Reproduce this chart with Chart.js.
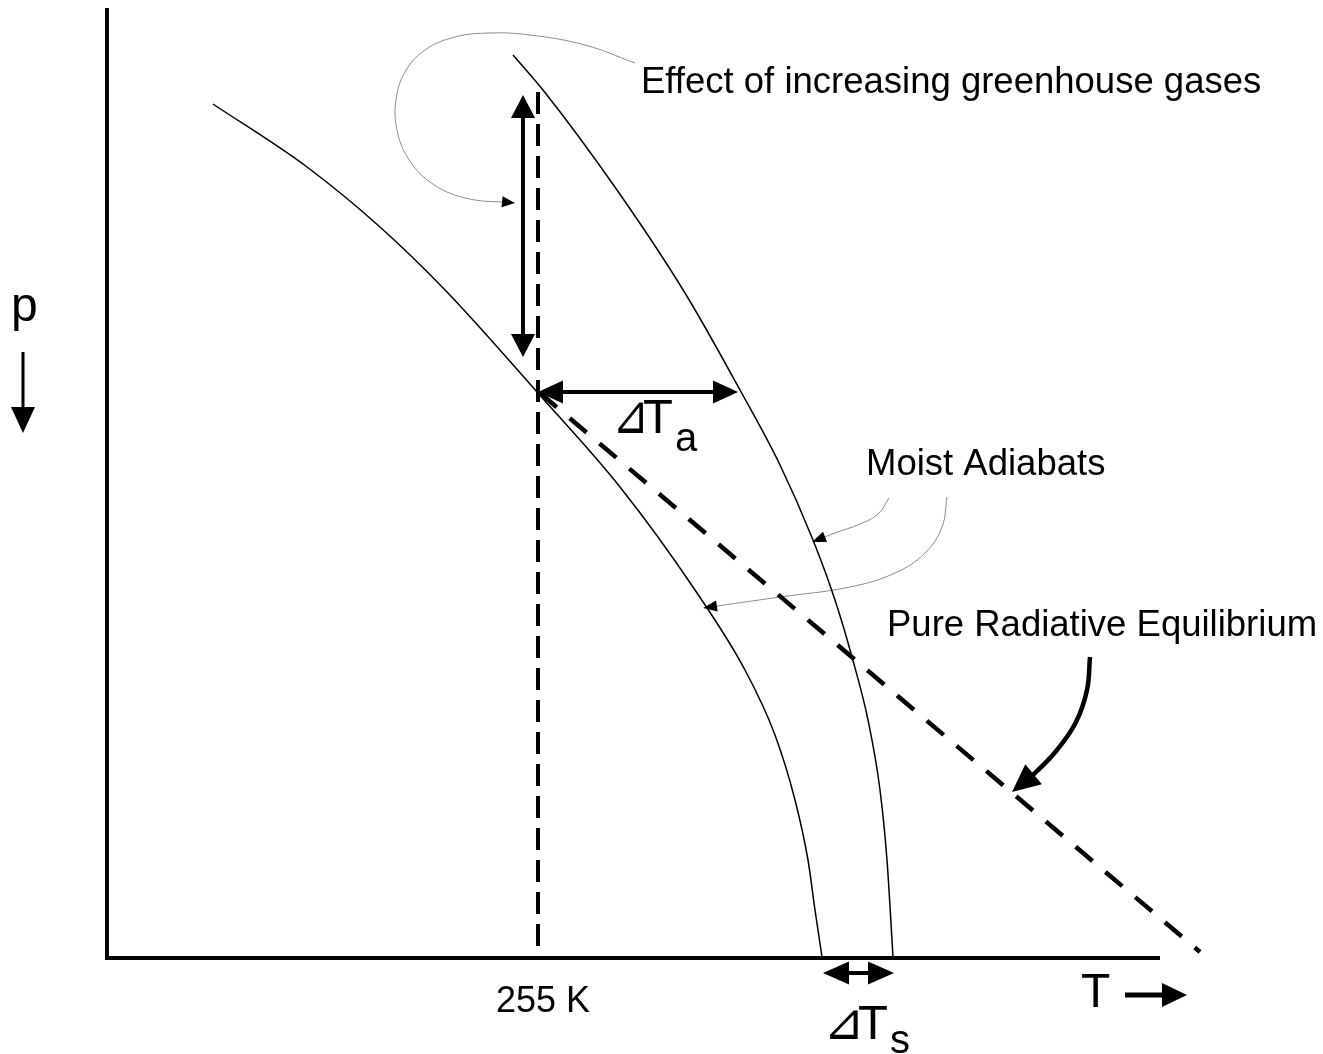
<!DOCTYPE html>
<html>
<head>
<meta charset="utf-8">
<title>Moist adiabats and radiative equilibrium</title>
<script src="https://cdn.jsdelivr.net/npm/chart.js@4.4.1/dist/chart.umd.min.js"></script>
<style>
  html, body { margin: 0; padding: 0; background: #fff; overflow: hidden; }
  canvas { display: block; }
</style>
</head>
<body>
<canvas id="profile" width="1323" height="1054"></canvas>
<script>
// schematic units: T grows to the right, p grows downward
const tRange = [0, 1323];
const pRange = [0, 1054];

// frame (p axis + T axis)
const axesT = [107, 107, 1160];
const axesP = [8, 958, 958];

// moist adiabat, present climate
const coldAdiabatT = [213, 307, 380, 447, 537, 620, 695, 745, 775, 795, 808, 815, 822];
const coldAdiabatP = [104, 167, 227, 292, 392, 487, 590, 670, 735, 800, 860, 910, 957];

// moist adiabat, more greenhouse gases
const warmAdiabatT = [513, 543, 617, 685, 740, 780, 813, 835, 852, 868, 880, 887, 893];
const warmAdiabatP = [55, 90, 190, 293, 390, 465, 540, 600, 657, 720, 790, 860, 957];

// pure radiative equilibrium
const radiativeT = [540, 1200];
const radiativeP = [393, 952];

// emission level at 255 K
const emissionT = [538, 538];
const emissionP = [92, 958];

// rise of the emission level
const liftT = [523, 523];
const liftP = [95, 357];

// warming aloft and at the surface
const deltaAloftT = [538, 738];
const deltaAloftP = [392, 392];
const deltaSurfT = [823, 894];
const deltaSurfP = [973, 973];

// axis direction arrows
const tArrowT = [1125, 1187];
const tArrowP = [995, 995];
const pArrowT = [23, 23];
const pArrowP = [352, 433];

// callout leaders
const greenhouseNoteT = [635, 585, 530, 490, 455, 425, 405, 396, 397, 408, 430, 465, 515];
const greenhouseNoteP = [63, 45, 35, 33, 37, 50, 72, 100, 130, 158, 182, 198, 203];
const moistNoteUpperT = [889, 878, 860, 835, 812];
const moistNoteUpperP = [498, 514, 524, 533, 542];
const moistNoteLowerT = [947, 942, 925, 895, 850, 780, 703];
const moistNoteLowerP = [497, 527, 553, 573, 587, 597, 608];
const radiativeNoteT = [1090, 1087, 1076, 1057, 1035, 1012];
const radiativeNoteP = [657, 690, 722, 750, 773, 792];

// texts
const labelTexts = ['Effect of increasing greenhouse gases', 'Moist Adiabats', 'Pure Radiative Equilibrium', '255 K', 'T', 'p'];
const labelT = [641, 866, 887, 496, 1081, 11];
const labelP = [93, 475, 636, 1012, 1007, 321];
const labelSize = [36.5, 36.5, 36.5, 36, 48, 48];

const deltaSubs = ['a', 's'];
const deltaT = [618, 830];
const deltaP = [433, 1039];

const pts = (xs, ys) => xs.map((x, i) => ({ x: x, y: ys[i] }));

function line(data, width, extra) {
  return Object.assign({
    data: data,
    showLine: true,
    borderColor: '#000',
    borderWidth: width,
    pointRadius: 0,
    tension: 0,
    fill: false,
  }, extra || {});
}

const datasets = [
  line(pts(axesT, axesP), 4, { borderJoinStyle: 'miter' }),
  line(pts(coldAdiabatT, coldAdiabatP), 1.5, { cubicInterpolationMode: 'monotone' }),
  line(pts(warmAdiabatT, warmAdiabatP), 1.5, { cubicInterpolationMode: 'monotone' }),
  line(pts(radiativeT, radiativeP), 4.5, { borderDash: [22, 17] }),
  line(pts(emissionT, emissionP), 4, { borderDash: [22, 10] }),
  line(pts(liftT, liftP), 4, { head: { len: 23, width: 24, start: true, end: true } }),
  line(pts(deltaAloftT, deltaAloftP), 4, { head: { len: 25, width: 23, start: true, end: true } }),
  line(pts(deltaSurfT, deltaSurfP), 4, { head: { len: 26, width: 23, start: true, end: true } }),
  line(pts(tArrowT, tArrowP), 5, { head: { len: 25, width: 24, end: true } }),
  line(pts(pArrowT, pArrowP), 3, { head: { len: 26, width: 24, end: true } }),
  line(pts(greenhouseNoteT, greenhouseNoteP), 1, { borderColor: '#8a8a8a', tension: 0.4, head: { len: 13, width: 11, end: true } }),
  line(pts(moistNoteUpperT, moistNoteUpperP), 1, { borderColor: '#8a8a8a', tension: 0.4, head: { len: 14, width: 11, end: true } }),
  line(pts(moistNoteLowerT, moistNoteLowerP), 1, { borderColor: '#8a8a8a', tension: 0.4, head: { len: 14, width: 11, end: true } }),
  line(pts(radiativeNoteT, radiativeNoteP), 4.5, { tension: 0.4, head: { len: 28, width: 26, end: true } }),
];

// move an end point back toward its neighbour so the shaft hides under the head
function pull(p, q, d) {
  const dx = p.x - q.x, dy = p.y - q.y;
  const l = Math.hypot(dx, dy) || 1;
  p.x -= dx / l * d;
  p.y -= dy / l * d;
}

function drawHead(ctx, tip, from, head) {
  const ang = Math.atan2(tip[1] - from[1], tip[0] - from[0]);
  ctx.save();
  ctx.translate(tip[0], tip[1]);
  ctx.rotate(ang);
  ctx.beginPath();
  ctx.moveTo(0, 0);
  ctx.lineTo(-head.len, head.width / 2);
  ctx.lineTo(-head.len, -head.width / 2);
  ctx.closePath();
  ctx.fillStyle = '#000';
  ctx.fill();
  ctx.restore();
}

const arrowHeads = {
  id: 'arrowHeads',
  beforeDatasetDraw(chart, args) {
    const ds = chart.data.datasets[args.index];
    if (!ds.head) return;
    const el = args.meta.data;
    ds._tips = el.map(p => [p.x, p.y]);
    const n = el.length;
    if (ds.head.end) pull(el[n - 1], el[n - 2], ds.head.len * 0.5);
    if (ds.head.start) pull(el[0], el[1], ds.head.len * 0.5);
  },
  afterDatasetDraw(chart, args) {
    const ds = chart.data.datasets[args.index];
    if (!ds.head) return;
    const el = args.meta.data;
    const tips = ds._tips;
    el.forEach((p, i) => { p.x = tips[i][0]; p.y = tips[i][1]; });
    const n = tips.length;
    const ctx = chart.ctx;
    if (ds.head.end) drawHead(ctx, tips[n - 1], tips[n - 2], ds.head);
    if (ds.head.start) drawHead(ctx, tips[0], tips[1], ds.head);
  }
};

const textLayer = {
  id: 'textLayer',
  afterDraw(chart) {
    const ctx = chart.ctx;
    const xs = chart.scales.x, ys = chart.scales.y;
    ctx.save();
    ctx.fillStyle = '#000';
    ctx.textBaseline = 'alphabetic';
    ctx.textAlign = 'left';
    labelTexts.forEach((txt, i) => {
      ctx.font = labelSize[i] + 'px "Liberation Sans", Arial, sans-serif';
      ctx.fillText(txt, xs.getPixelForValue(labelT[i]), ys.getPixelForValue(labelP[i]));
    });

    // ⊿T with subscript
    deltaSubs.forEach((sub, i) => {
      const x0 = xs.getPixelForValue(deltaT[i]);
      const base = ys.getPixelForValue(deltaP[i]);
      ctx.font = '100px "DejaVu Sans", sans-serif';
      const m = ctx.measureText('\u22BF');
      const inkW = m.actualBoundingBoxLeft + m.actualBoundingBoxRight;
      const inkH = m.actualBoundingBoxAscent + m.actualBoundingBoxDescent;
      const w = i === 0 ? 25 : 28, h = i === 0 ? 31 : 29;
      const sx = w / inkW, sy = h / inkH;
      ctx.save();
      ctx.translate(x0 + m.actualBoundingBoxLeft * sx, base - m.actualBoundingBoxDescent * sy);
      ctx.scale(sx, sy);
      ctx.fillText('\u22BF', 0, 0);
      ctx.restore();

      ctx.font = '49px "Liberation Sans", Arial, sans-serif';
      const tx = x0 + w;
      ctx.fillText('T', tx, base);
      const tw = ctx.measureText('T').width;
      ctx.font = '40px "Liberation Sans", Arial, sans-serif';
      ctx.fillText(sub, tx + tw + 2, base + (i === 0 ? 18 : 14));
    });
    ctx.restore();
  }
};

new Chart(document.getElementById('profile'), {
  type: 'scatter',
  data: { datasets: datasets },
  options: {
    responsive: false,
    animation: false,
    events: [],
    layout: { padding: 0 },
    plugins: { legend: { display: false }, tooltip: { enabled: false } },
    scales: {
      x: { type: 'linear', display: false, min: tRange[0], max: tRange[1] },
      y: { type: 'linear', display: false, min: pRange[0], max: pRange[1], reverse: true }
    }
  },
  plugins: [arrowHeads, textLayer]
});
</script>
</body>
</html>
